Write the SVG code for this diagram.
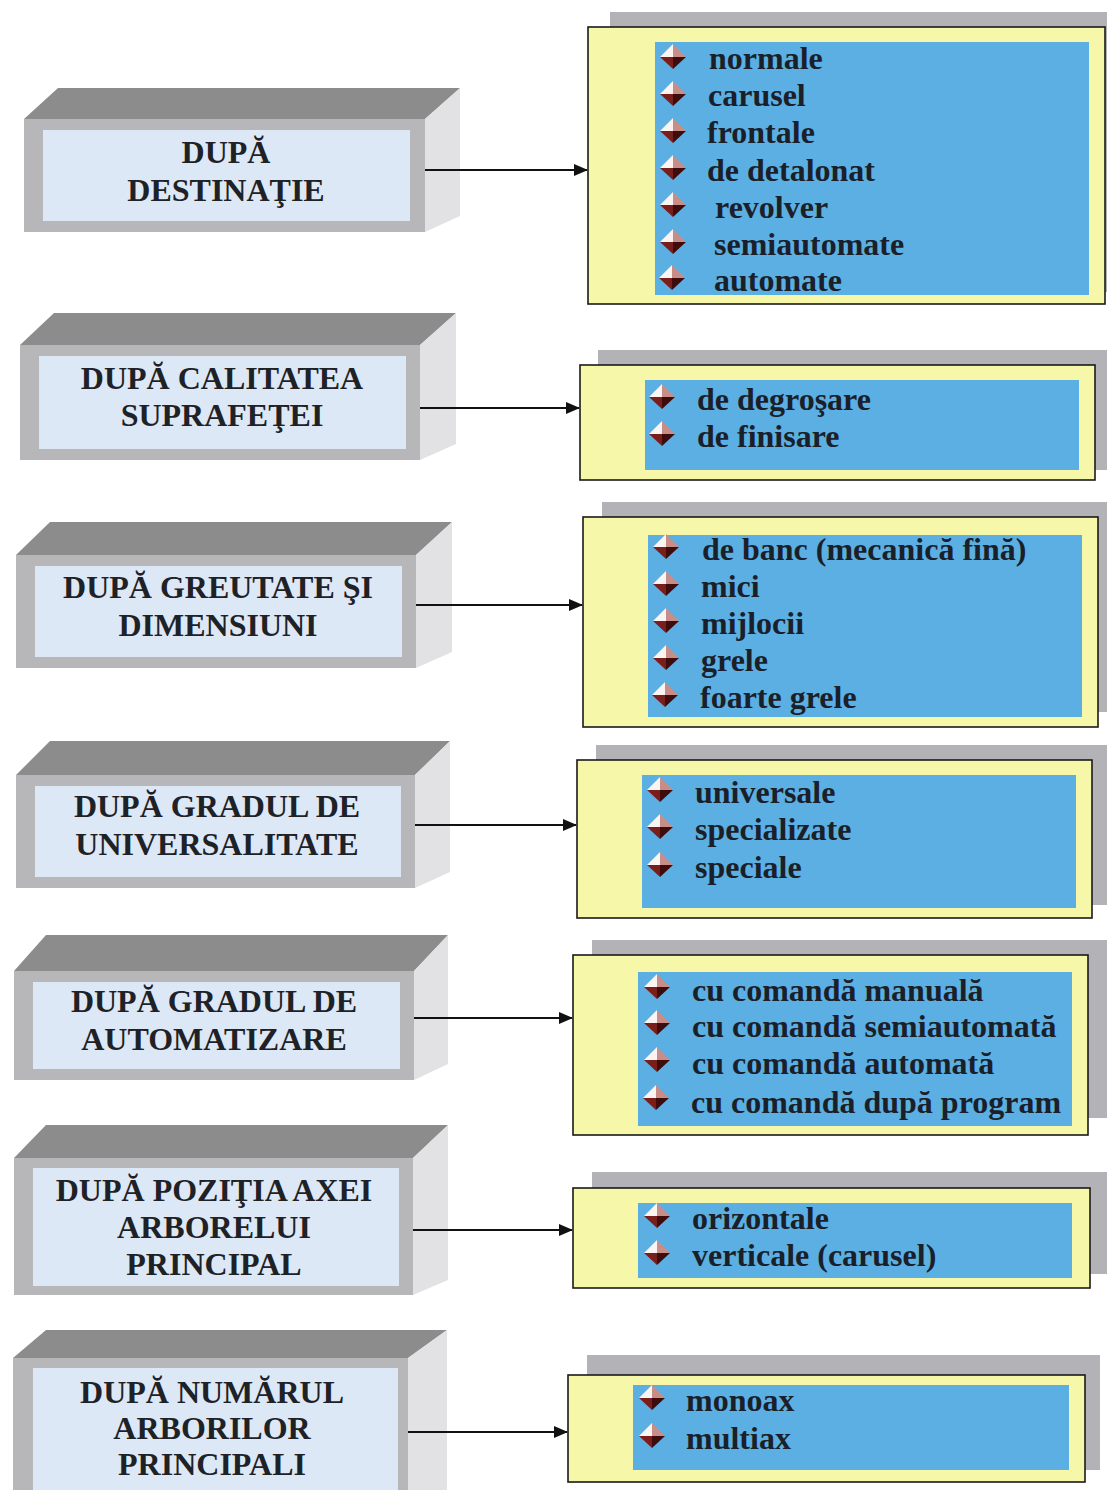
<svg xmlns="http://www.w3.org/2000/svg" xmlns:xlink="http://www.w3.org/1999/xlink" width="1107" height="1490" viewBox="0 0 1107 1490">
<style>
.top{fill:#8c8c8c}
.side{fill:#e2e2e4}
.front{fill:#b7b7b9}
.face{fill:#dde8f6}
.lbl{font-family:"Liberation Serif","Times New Roman",serif;font-weight:bold;font-size:32px;fill:#1e2226;text-anchor:middle}
.shadow{fill:#b3b2b6}
.yel{fill:#f6f7a8;stroke:#1a1a1a;stroke-width:1.6}
.blue{fill:#5cafe2}
.item{font-family:"Liberation Serif","Times New Roman",serif;font-weight:bold;font-size:32px;fill:#1a1f2a}
.conn line{stroke:#111;stroke-width:2}
</style>
<defs>
<linearGradient id="topg" x1="0" y1="0" x2="0" y2="1">
<stop offset="0" stop-color="#9a9a9a"/><stop offset="1" stop-color="#7e7e7e"/>
</linearGradient>
<linearGradient id="shg" x1="0" y1="0" x2="0" y2="1">
<stop offset="0" stop-color="#a9a8ad"/><stop offset="1" stop-color="#c9c8cc"/>
</linearGradient>
<marker id="arr" markerWidth="14" markerHeight="12" refX="13" refY="6" orient="auto" markerUnits="userSpaceOnUse">
<path d="M0,0 L14,6 L0,12 Z" fill="#111"/>
</marker>
<g id="bul">
<polygon points="-13,0 0,-13 0,0" fill="#fbf4f2"/>
<polygon points="0,-13 13,0 0,0" fill="#c78d86"/>
<polygon points="-13,0 0,0 0,12" fill="#7a1e1c"/>
<polygon points="0,0 13,0 0,12" fill="#3e0c0c"/>
</g>
</defs>
<rect width="1107" height="1490" fill="#ffffff"/>

<!-- Left category blocks -->
<g id="cat1">
<polygon class="top" fill="url(#topg)" points="24,119 58,88 460,88 425,119"/>
<polygon class="side" points="425,119 460,88 460,216 425,232"/>
<rect class="front" x="24" y="119" width="401" height="113"/>
<rect class="face" x="43" y="130" width="367" height="91"/>
<text class="lbl" x="226" y="163">DUPĂ</text>
<text class="lbl" x="226" y="201">DESTINAŢIE</text>
</g>
<g id="cat2">
<polygon class="top" fill="url(#topg)" points="20,345 54,313 456,313 420,345"/>
<polygon class="side" points="420,345 456,313 456,444 420,460"/>
<rect class="front" x="20" y="345" width="400" height="115"/>
<rect class="face" x="39" y="356" width="367" height="93"/>
<text class="lbl" x="222" y="389">DUPĂ CALITATEA</text>
<text class="lbl" x="222" y="426">SUPRAFEŢEI</text>
</g>
<g id="cat3">
<polygon class="top" fill="url(#topg)" points="16,555 50,522 452,522 416,555"/>
<polygon class="side" points="416,555 452,522 452,652 416,668"/>
<rect class="front" x="16" y="555" width="400" height="113"/>
<rect class="face" x="35" y="566" width="367" height="91"/>
<text class="lbl" x="218" y="598">DUPĂ GREUTATE ŞI</text>
<text class="lbl" x="218" y="636">DIMENSIUNI</text>
</g>
<g id="cat4">
<polygon class="top" fill="url(#topg)" points="16,775 50,741 450,741 415,775"/>
<polygon class="side" points="415,775 450,741 450,872 415,888"/>
<rect class="front" x="16" y="775" width="399" height="113"/>
<rect class="face" x="35" y="786" width="366" height="91"/>
<text class="lbl" x="217" y="817">DUPĂ GRADUL DE</text>
<text class="lbl" x="217" y="855">UNIVERSALITATE</text>
</g>
<g id="cat5">
<polygon class="top" fill="url(#topg)" points="14,971 46,935 448,935 414,971"/>
<polygon class="side" points="414,971 448,935 448,1064 414,1080"/>
<rect class="front" x="14" y="971" width="400" height="109"/>
<rect class="face" x="33" y="982" width="367" height="87"/>
<text class="lbl" x="214" y="1012">DUPĂ GRADUL DE</text>
<text class="lbl" x="214" y="1050">AUTOMATIZARE</text>
</g>
<g id="cat6">
<polygon class="top" fill="url(#topg)" points="14,1158 46,1125 448,1125 413,1158"/>
<polygon class="side" points="413,1158 448,1125 448,1280 413,1295"/>
<rect class="front" x="14" y="1158" width="399" height="137"/>
<rect class="face" x="33" y="1168" width="366" height="118"/>
<text class="lbl" x="214" y="1201">DUPĂ POZIŢIA AXEI</text>
<text class="lbl" x="214" y="1238">ARBORELUI</text>
<text class="lbl" x="214" y="1275">PRINCIPAL</text>
</g>
<g id="cat7">
<polygon class="top" fill="url(#topg)" points="13,1358 46,1330 447,1330 408,1358"/>
<polygon class="side" points="408,1358 447,1330 447,1490 408,1490"/>
<rect class="front" x="13" y="1358" width="395" height="140"/>
<rect class="face" x="33" y="1368" width="365" height="130"/>
<text class="lbl" x="212" y="1403">DUPĂ NUMĂRUL</text>
<text class="lbl" x="212" y="1439">ARBORILOR</text>
<text class="lbl" x="212" y="1475">PRINCIPALI</text>
</g>

<!-- Connectors -->
<g id="connectors" class="conn">
<line x1="425" y1="170" x2="587" y2="170" marker-end="url(#arr)"/>
<line x1="420" y1="408" x2="579" y2="408" marker-end="url(#arr)"/>
<line x1="416" y1="605" x2="582" y2="605" marker-end="url(#arr)"/>
<line x1="415" y1="825" x2="576" y2="825" marker-end="url(#arr)"/>
<line x1="414" y1="1018" x2="572" y2="1018" marker-end="url(#arr)"/>
<line x1="413" y1="1230" x2="572" y2="1230" marker-end="url(#arr)"/>
<line x1="408" y1="1432" x2="567" y2="1432" marker-end="url(#arr)"/>
</g>

<!-- Right lists -->
<g id="list1">
<rect class="shadow" fill="url(#shg)" x="610" y="12" width="497" height="280"/>
<rect class="yel" x="588" y="27" width="517" height="277"/>
<rect class="blue" x="655" y="42" width="434" height="253"/>
<use xlink:href="#bul" x="673" y="57"/>
<use xlink:href="#bul" x="673" y="94"/>
<use xlink:href="#bul" x="673" y="131"/>
<use xlink:href="#bul" x="673" y="168"/>
<use xlink:href="#bul" x="673" y="205"/>
<use xlink:href="#bul" x="673" y="242"/>
<use xlink:href="#bul" x="672" y="278"/>
<text class="item" x="709" y="69">normale</text>
<text class="item" x="708" y="106">carusel</text>
<text class="item" x="707" y="143">frontale</text>
<text class="item" x="707" y="181">de detalonat</text>
<text class="item" x="715" y="218">revolver</text>
<text class="item" x="714" y="255">semiautomate</text>
<text class="item" x="714" y="291">automate</text>
</g>
<g id="list2">
<rect class="shadow" fill="url(#shg)" x="598" y="350" width="509" height="120"/>
<rect class="yel" x="580" y="365" width="515" height="115"/>
<rect class="blue" x="645" y="380" width="434" height="90"/>
<use xlink:href="#bul" x="662" y="397"/>
<use xlink:href="#bul" x="662" y="434"/>
<text class="item" x="697" y="410">de degroşare</text>
<text class="item" x="697" y="447">de finisare</text>
</g>
<g id="list3">
<rect class="shadow" fill="url(#shg)" x="602" y="502" width="505" height="210"/>
<rect class="yel" x="583" y="517" width="515" height="210"/>
<rect class="blue" x="648" y="535" width="434" height="182"/>
<use xlink:href="#bul" x="666" y="547"/>
<use xlink:href="#bul" x="666" y="584"/>
<use xlink:href="#bul" x="666" y="621"/>
<use xlink:href="#bul" x="666" y="658"/>
<use xlink:href="#bul" x="665" y="695"/>
<text class="item" x="702" y="560">de banc (mecanică fină)</text>
<text class="item" x="701" y="597">mici</text>
<text class="item" x="701" y="634">mijlocii</text>
<text class="item" x="701" y="671">grele</text>
<text class="item" x="700" y="708">foarte grele</text>
</g>
<g id="list4">
<rect class="shadow" fill="url(#shg)" x="596" y="745" width="511" height="160"/>
<rect class="yel" x="577" y="760" width="515" height="158"/>
<rect class="blue" x="642" y="775" width="434" height="133"/>
<use xlink:href="#bul" x="660" y="790"/>
<use xlink:href="#bul" x="660" y="827"/>
<use xlink:href="#bul" x="660" y="865"/>
<text class="item" x="695" y="803">universale</text>
<text class="item" x="695" y="840">specializate</text>
<text class="item" x="695" y="878">speciale</text>
</g>
<g id="list5">
<rect class="shadow" fill="url(#shg)" x="592" y="940" width="515" height="178"/>
<rect class="yel" x="573" y="955" width="515" height="180"/>
<rect class="blue" x="638" y="972" width="434" height="154"/>
<use xlink:href="#bul" x="657" y="987"/>
<use xlink:href="#bul" x="657" y="1023"/>
<use xlink:href="#bul" x="657" y="1060"/>
<use xlink:href="#bul" x="656" y="1098"/>
<text class="item" x="692" y="1001">cu comandă manuală</text>
<text class="item" x="692" y="1037">cu comandă semiautomată</text>
<text class="item" x="692" y="1074">cu comandă automată</text>
<text class="item" x="691" y="1113">cu comandă după program</text>
</g>
<g id="list6">
<rect class="shadow" fill="url(#shg)" x="592" y="1172" width="515" height="102"/>
<rect class="yel" x="573" y="1188" width="517" height="100"/>
<rect class="blue" x="638" y="1203" width="434" height="75"/>
<use xlink:href="#bul" x="657" y="1216"/>
<use xlink:href="#bul" x="657" y="1253"/>
<text class="item" x="692" y="1229">orizontale</text>
<text class="item" x="692" y="1266">verticale (carusel)</text>
</g>
<g id="list7">
<rect class="shadow" fill="url(#shg)" x="587" y="1355" width="513" height="115"/>
<rect class="yel" x="568" y="1375" width="517" height="107"/>
<rect class="blue" x="633" y="1385" width="436" height="85"/>
<use xlink:href="#bul" x="652" y="1398"/>
<use xlink:href="#bul" x="652" y="1436"/>
<text class="item" x="686" y="1411">monoax</text>
<text class="item" x="686" y="1449">multiax</text>
</g>
</svg>
